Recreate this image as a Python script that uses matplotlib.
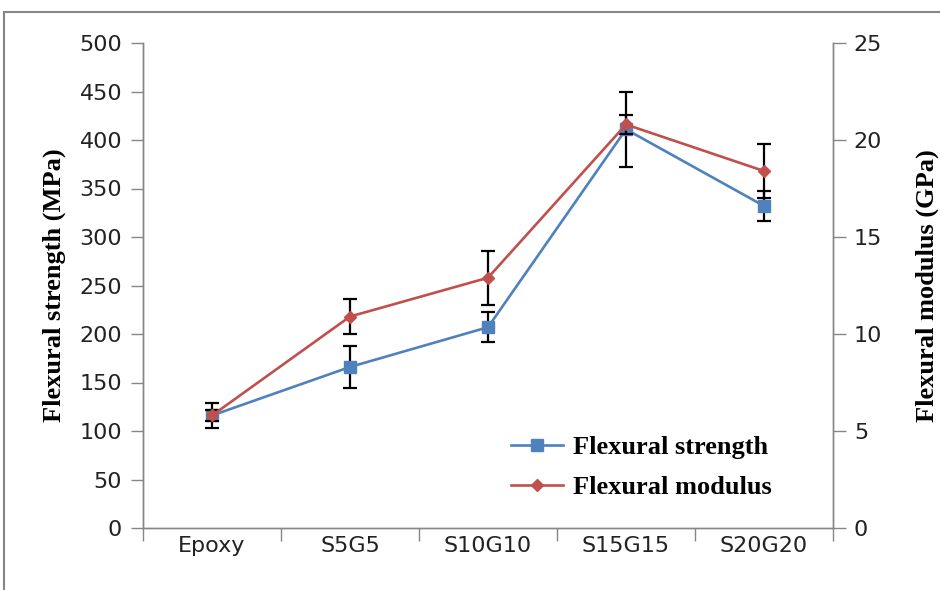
import matplotlib
matplotlib.use("Agg")
import matplotlib.pyplot as plt
from matplotlib.patches import Rectangle

categories = ["Epoxy", "S5G5", "S10G10", "S15G15", "S20G20"]
strength = [116, 166, 207, 411, 332]
strength_err = [13, 22, 15.5, 39, 15]
modulus = [5.8, 10.9, 12.9, 20.8, 18.4]
modulus_err = [0.3, 0.9, 1.4, 0.5, 1.4]

blue = "#4F81BD"
red = "#C0504D"
gray = "#868686"
tickfont = "Liberation Sans Narrow"
labelfont = "Liberation Serif"

fig = plt.figure(figsize=(9.4, 5.9), dpi=100)
fig.patches.append(Rectangle((4/940, -0.1), 1.2, 1 - 12/590 + 0.1, transform=fig.transFigure,
                             fill=False, edgecolor=gray, linewidth=1.5))
ax = fig.add_axes([143/940, 1 - 528/590, (833 - 143)/940, (528 - 43)/590])
ax2 = ax.twinx()

x = list(range(len(categories)))
ax.errorbar(x, strength, yerr=strength_err, fmt='none', ecolor='black', elinewidth=1.6,
            capsize=5, capthick=1.6, zorder=3)
l1, = ax.plot(x, strength, color=blue, linewidth=1.9, marker='s', markersize=8.5, zorder=4)
ax2.errorbar(x, modulus, yerr=modulus_err, fmt='none', ecolor='black', elinewidth=1.6,
             capsize=5, capthick=1.6, zorder=3)
l2, = ax2.plot(x, modulus, color=red, linewidth=1.9, marker='D', markersize=6.5, zorder=4)

ax.set_xlim(-0.5, len(categories) - 0.5)
ax.set_ylim(0, 500)
ax2.set_ylim(0, 25)
ax.set_yticks(range(0, 501, 50))
ax2.set_yticks(range(0, 26, 5))
ax.set_xticks([i - 0.5 for i in range(len(categories) + 1)])
ax.set_xticklabels([])
ax.set_xticks(x, minor=True)
ax.set_xticklabels(categories, minor=True, fontsize=16, family=tickfont, color='#222222')
ax.tick_params(axis='x', which='minor', length=0, pad=6)
ax.tick_params(axis='x', which='major', length=9, width=1, color=gray, direction='out')
ax.tick_params(axis='y', length=9, width=1, color=gray, direction='out', pad=6)
ax2.tick_params(axis='y', length=9, width=1, color=gray, direction='out', pad=6)
for lab in ax.get_yticklabels() + ax2.get_yticklabels():
    lab.set_fontsize(16)
    lab.set_family(tickfont)
    lab.set_color('#222222')

for a in (ax, ax2):
    a.spines['top'].set_visible(False)
    for s in ('left', 'right', 'bottom'):
        a.spines[s].set_color(gray)
        a.spines[s].set_linewidth(1)

ax.set_ylabel("Flexural strength (MPa)", fontsize=19, family=labelfont, fontweight='bold', labelpad=10)
ax2.set_ylabel("Flexural modulus (GPa)", fontsize=19, family=labelfont, fontweight='bold',
               rotation=90, labelpad=24)

leg = ax2.legend([l1, l2], ["Flexural strength", "Flexural modulus"], loc='lower right',
                 bbox_to_anchor=(0.945, 0.01), frameon=False, handlelength=2.0,
                 handletextpad=0.35, labelspacing=0.65,
                 prop={'family': labelfont, 'weight': 'bold', 'size': 19})

fig.savefig("out.png", dpi=100)
